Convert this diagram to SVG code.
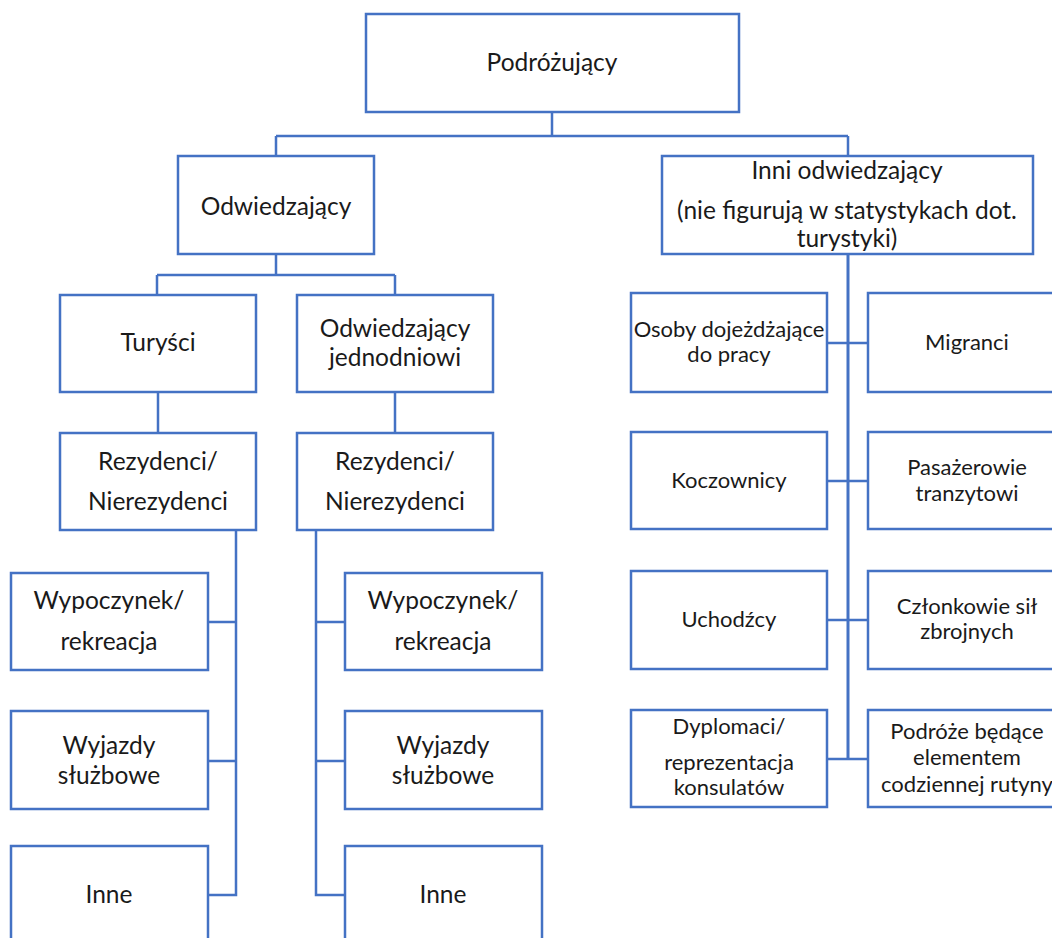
<svg xmlns="http://www.w3.org/2000/svg" width="1052" height="938" viewBox="0 0 1052 938">
<style>
.box{fill:#ffffff;stroke:#4472C4;stroke-width:2.5}
.ln{fill:none;stroke:#4472C4;stroke-width:2.5}
text{font-family:Lato,"Open Sans",sans-serif;fill:#1a1a1a;text-anchor:middle}
.l{font-size:24.5px}
.m{font-size:22px}
</style>
<rect width="1052" height="938" fill="#ffffff"/>
<g id="connectors">
<path class="ln" d="M552,113 V136 M276,136 H848 M276,136 V156 M848,136 V156"/>
<path class="ln" d="M276,254 V275 M157,275 H395 M157,275 V295 M395,275 V295"/>
<path class="ln" d="M158,392 V433 M395,392 V433"/>
<path class="ln" d="M236,530 V895 H208 M208,622 H236 M208,761 H236"/>
<path class="ln" d="M316,530 V895 H345 M316,622 H345 M316,761 H345"/>
<path class="ln" style="stroke-width:3" d="M848,254 V759"/>
<path class="ln" d="M827,343 H868 M827,481 H868 M827,620 H868 M827,759 H868"/>
</g>
<g id="n-podrozujacy"><rect class="box" x="366" y="14" width="373" height="98"/><text class="l" x="552" y="71">Podróżujący</text></g>
<g id="n-odwiedzajacy"><rect class="box" x="178" y="156" width="196" height="98"/><text class="l" x="276" y="215">Odwiedzający</text></g>
<g id="n-inni"><rect class="box" x="662" y="156" width="371" height="98"/><text class="l" x="847" y="179">Inni odwiedzający</text><text class="l" x="847" y="219">(nie figurują w statystykach dot.</text><text class="l" x="847" y="247">turystyki)</text></g>
<g id="n-turysci"><rect class="box" x="60" y="295" width="196" height="97"/><text class="l" x="158" y="351">Turyści</text></g>
<g id="n-jednodniowi"><rect class="box" x="297" y="295" width="196" height="97"/><text class="l" x="395" y="337">Odwiedzający</text><text class="l" x="395" y="366">jednodniowi</text></g>
<g id="n-rez1"><rect class="box" x="60" y="433" width="196" height="97"/><text class="l" x="158" y="470">Rezydenci/</text><text class="l" x="158" y="510">Nierezydenci</text></g>
<g id="n-rez2"><rect class="box" x="297" y="433" width="196" height="97"/><text class="l" x="395" y="470">Rezydenci/</text><text class="l" x="395" y="510">Nierezydenci</text></g>
<g id="n-wyp1"><rect class="box" x="11" y="573" width="197" height="97"/><text class="l" x="109" y="609">Wypoczynek/</text><text class="l" x="109" y="650">rekreacja</text></g>
<g id="n-wyj1"><rect class="box" x="11" y="711" width="197" height="98"/><text class="l" x="109" y="754">Wyjazdy</text><text class="l" x="109" y="784">służbowe</text></g>
<g id="n-inne1"><rect class="box" x="11" y="846" width="197" height="97"/><text class="l" x="109" y="903">Inne</text></g>
<g id="n-wyp2"><rect class="box" x="345" y="573" width="197" height="97"/><text class="l" x="443" y="609">Wypoczynek/</text><text class="l" x="443" y="650">rekreacja</text></g>
<g id="n-wyj2"><rect class="box" x="345" y="711" width="197" height="98"/><text class="l" x="443" y="754">Wyjazdy</text><text class="l" x="443" y="784">służbowe</text></g>
<g id="n-inne2"><rect class="box" x="345" y="846" width="197" height="97"/><text class="l" x="443" y="903">Inne</text></g>
<g id="n-osoby"><rect class="box" x="631" y="293" width="196" height="99"/><text class="m" x="729" y="337">Osoby dojeżdżające</text><text class="m" x="729" y="362">do pracy</text></g>
<g id="n-migranci"><rect class="box" x="868" y="293" width="198" height="99"/><text class="m" x="967" y="350">Migranci</text></g>
<g id="n-koczownicy"><rect class="box" x="631" y="432" width="196" height="97"/><text class="m" x="729" y="488">Koczownicy</text></g>
<g id="n-pasazerowie"><rect class="box" x="868" y="432" width="198" height="97"/><text class="m" x="967" y="475">Pasażerowie</text><text class="m" x="967" y="501">tranzytowi</text></g>
<g id="n-uchodzcy"><rect class="box" x="631" y="571" width="196" height="98"/><text class="m" x="729" y="627">Uchodźcy</text></g>
<g id="n-czlonkowie"><rect class="box" x="868" y="571" width="198" height="98"/><text class="m" x="967" y="614">Członkowie sił</text><text class="m" x="967" y="639">zbrojnych</text></g>
<g id="n-dyplomaci"><rect class="box" x="631" y="710" width="196" height="97"/><text class="m" x="729" y="734">Dyplomaci/</text><text class="m" x="729" y="770">reprezentacja</text><text class="m" x="729" y="795">konsulatów</text></g>
<g id="n-podroze"><rect class="box" x="868" y="710" width="198" height="97"/><text class="m" x="967" y="739">Podróże będące</text><text class="m" x="967" y="765">elementem</text><text class="m" x="967" y="792">codziennej rutyny</text></g>
</svg>
